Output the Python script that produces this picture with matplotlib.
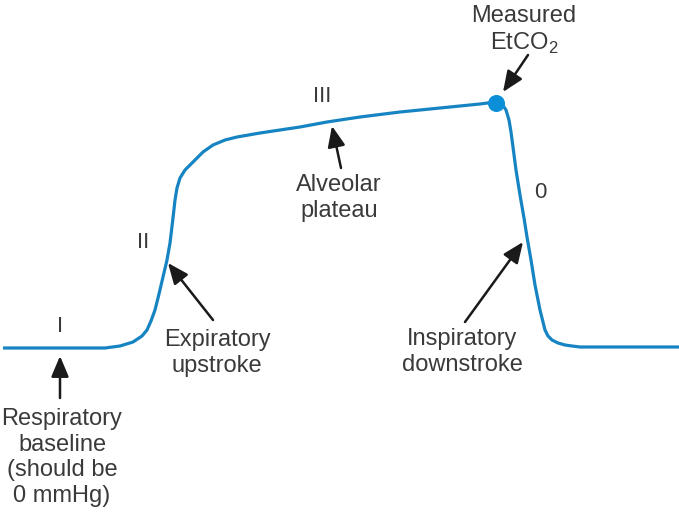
import matplotlib
matplotlib.use('Agg')
import matplotlib.pyplot as plt

# capnogram trace: time (px) and CO2 level (px up from bottom)
trace_t = [3, 60, 105, 120, 133, 142, 147, 151, 155, 159, 163, 167, 170, 173,
           175, 177, 180, 185, 190, 195, 203, 213, 225, 237, 260, 300, 327,
           360, 400, 450, 480, 495, 502, 506, 509, 511, 513, 516, 520, 524,
           527, 531, 535, 540, 543, 545, 548, 552, 558, 565, 572, 580, 679]
trace_co2 = [171, 171, 171, 173, 177, 183, 189, 198, 209, 225, 242, 259, 276,
             301, 319, 331, 341, 349, 354, 359, 367, 374, 379, 382, 386, 392,
             397, 402, 407, 412, 415, 417, 415, 409, 399, 387, 372, 349, 324,
             301, 282, 259, 234, 209, 197, 189, 183, 179, 176, 174, 173, 172,
             172]

# measured end-tidal point
etco2_t = [496]
etco2_co2 = [416]

phase_labels = ['I', 'II', 'III', '0']

blue = '#1684c2'
ink = '#3a3a3a'

plt.rcParams['font.family'] = ['Liberation Sans', 'DejaVu Sans']
plt.rcParams['mathtext.fontset'] = 'custom'
plt.rcParams['mathtext.rm'] = 'Liberation Sans'

H = 519
fig = plt.figure(figsize=(6.79, 5.19), dpi=100)
ax = fig.add_axes([0, 0, 1, 1])
ax.set_xlim(0, 679)
ax.set_ylim(0, H)
ax.axis('off')

ax.plot(trace_t, trace_co2, color=blue, lw=2.3, solid_joinstyle='round',
        solid_capstyle='butt')
ax.scatter(etco2_t, etco2_co2, s=150, color='#0b8fd8', zorder=3, lw=0)

fs = 17
# phase numerals
for lab, (x, y) in zip(phase_labels, [(60, 326), (143, 243), (322, 97), (540, 193)]):
    ax.text(x, H - y, lab, ha='center', va='center', fontsize=fs - 1, color=ink)

def note(txt, xy, xytext, tx, ty):
    ax.annotate('', xy=(xy[0], H - xy[1]), xytext=(xytext[0], H - xytext[1]),
                arrowprops=dict(arrowstyle='-|>,head_length=0.9,head_width=0.38',
                                mutation_scale=14, color='#1a1a1a', lw=1.8,
                                shrinkA=0, shrinkB=0))
    ax.text(tx, H - ty, txt, ha='center', va='top', fontsize=fs, color=ink,
            linespacing=1.22)

note('Respiratory\nbaseline\n(should be\n0 mmHg)', (60, 356), (60, 398), 62, 408)
note('Expiratory\nupstroke', (168, 263), (213, 320), 217, 329)
note('Alveolar\nplateau', (332, 126), (341, 168), 339, 174)
note('Inspiratory\ndownstroke', (523, 242), (465, 322), 462, 328)
note('Measured\nEtCO$_2$', (503, 92), (528, 55), 524, 5)

fig.savefig('out.png', dpi=100)
